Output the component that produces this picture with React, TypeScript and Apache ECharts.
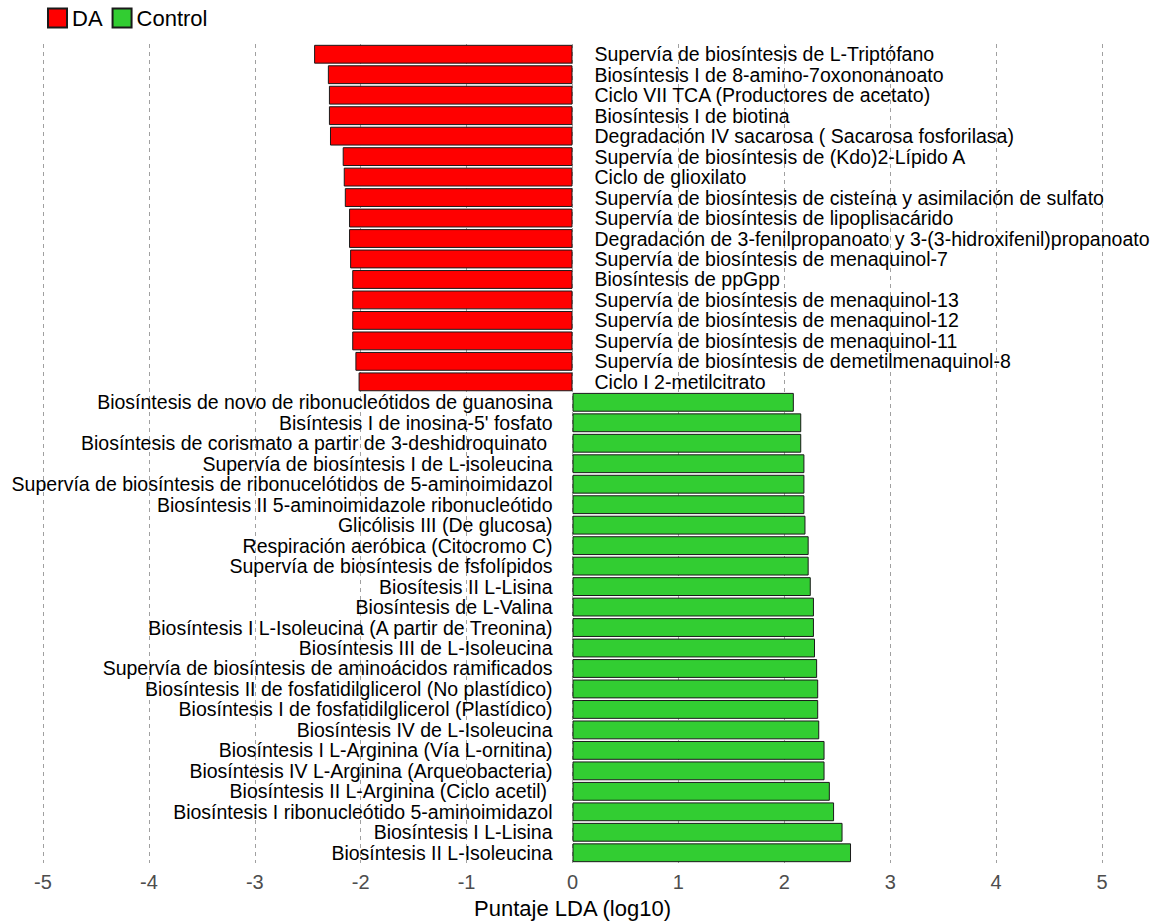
import React, { useEffect, useRef } from "react";
import * as echarts from "echarts";

const daCategories = [
  "Supervía de biosíntesis de L-Triptófano",
  "Biosíntesis I de 8-amino-7oxononanoato",
  "Ciclo VII TCA (Productores de acetato)",
  "Biosíntesis I de biotina",
  "Degradación IV sacarosa ( Sacarosa fosforilasa)",
  "Supervía de biosíntesis de (Kdo)2-Lípido A",
  "Ciclo de glioxilato",
  "Supervía de biosíntesis de cisteína y asimilación de sulfato",
  "Supervía de biosíntesis de lipoplisacárido",
  "Degradación de 3-fenilpropanoato y 3-(3-hidroxifenil)propanoato",
  "Supervía de biosíntesis de menaquinol-7",
  "Biosíntesis de ppGpp",
  "Supervía de biosíntesis de menaquinol-13",
  "Supervía de biosíntesis de menaquinol-12",
  "Supervía de biosíntesis de menaquinol-11",
  "Supervía de biosíntesis de demetilmenaquinol-8",
  "Ciclo I 2-metilcitrato",
];
const daValues = [
  -2.44, -2.31, -2.3, -2.3, -2.29, -2.17, -2.16, -2.15, -2.11, -2.11, -2.1,
  -2.08, -2.08, -2.08, -2.08, -2.05, -2.02,
];

const controlCategories = [
  "Biosíntesis de novo de ribonucleótidos de guanosina",
  "Bisíntesis I de inosina-5' fosfato",
  "Biosíntesis de corismato a partir de 3-deshidroquinato ",
  "Supervía de biosíntesis I de L-isoleucina",
  "Supervía de biosíntesis de ribonucelótidos de 5-aminoimidazol",
  "Biosíntesis II 5-aminoimidazole ribonucleótido",
  "Glicólisis III (De glucosa)",
  "Respiración aeróbica (Citocromo C)",
  "Supervía de biosíntesis de fsfolípidos",
  "Biosítesis II L-Lisina",
  "Biosíntesis de L-Valina",
  "Biosíntesis I L-Isoleucina (A partir de Treonina)",
  "Biosíntesis III de L-Isoleucina",
  "Supervía de biosíntesis de aminoácidos ramificados",
  "Biosíntesis II de fosfatidilglicerol (No plastídico)",
  "Biosíntesis I de fosfatidilglicerol (Plastídico)",
  "Biosíntesis IV de L-Isoleucina",
  "Biosíntesis I L-Arginina (Vía L-ornitina)",
  "Biosíntesis IV L-Arginina (Arqueobacteria)",
  "Biosíntesis II L-Arginina (Ciclo acetil) ",
  "Biosíntesis I ribonucleótido 5-aminoimidazol",
  "Biosíntesis I L-Lisina",
  "Biosíntesis II L-Isoleucina",
];
const controlValues = [
  2.09, 2.16, 2.16, 2.19, 2.19, 2.19, 2.2, 2.23, 2.23, 2.25, 2.28, 2.28, 2.29,
  2.31, 2.32, 2.32, 2.33, 2.38, 2.38, 2.43, 2.47, 2.55, 2.63,
];

const xTicks = [-5, -4, -3, -2, -1, 0, 1, 2, 3, 4, 5];

const FONT = "'Liberation Sans', Arial, sans-serif";

export default function App() {
  const ref = useRef<HTMLDivElement>(null);

  useEffect(() => {
    if (!ref.current) return;
    const chart = echarts.init(ref.current, null, { renderer: "svg" });
    const categories = [...daCategories, ...controlCategories];
    const daData = categories.map((_, i) =>
      i < daValues.length ? daValues[i] : "-"
    );
    const controlData = categories.map((_, i) =>
      i >= daValues.length ? controlValues[i - daValues.length] : "-"
    );

    chart.setOption({
      animation: false,
      backgroundColor: "#ffffff",
      legend: {
        left: 47,
        top: 7,
        padding: 0,
        itemWidth: 19,
        itemHeight: 19,
        itemGap: 9,
        icon: "rect",
        textStyle: { fontSize: 22, color: "#000", fontFamily: FONT },
        data: ["DA", "Control"],
      },
      grid: { left: 43, right: 56, top: 44, bottom: 57, containLabel: false },
      xAxis: {
        type: "value",
        min: xTicks[0],
        max: xTicks[xTicks.length - 1],
        interval: 1,
        name: "Puntaje LDA (log10)",
        nameLocation: "middle",
        nameGap: 34,
        nameTextStyle: { fontSize: 22, color: "#000", fontFamily: FONT },
        axisLine: { show: false },
        axisTick: { show: false },
        axisLabel: {
          fontSize: 20,
          color: "#4d4d4d",
          fontFamily: FONT,
          margin: 9,
        },
        splitLine: {
          show: true,
          lineStyle: { color: "#a0a0a0", width: 1, type: [4, 4] },
        },
      },
      yAxis: {
        type: "category",
        inverse: true,
        data: categories,
        axisLine: { show: false },
        axisTick: { show: false },
        axisLabel: { show: false },
        splitLine: { show: false },
      },
      series: [
        {
          name: "DA",
          type: "bar",
          data: daData,
          barCategoryGap: "8%",
          barGap: "-100%",
          itemStyle: { color: "#ff0000", borderColor: "#1a1a1a", borderWidth: 1 },
          label: {
            show: true,
            position: "right",
            distance: 22,
            formatter: "{b}",
            color: "#000",
            fontSize: 19.5,
            fontFamily: FONT,
          },
        },
        {
          name: "Control",
          type: "bar",
          data: controlData,
          barCategoryGap: "8%",
          barGap: "-100%",
          itemStyle: { color: "#32cd32", borderColor: "#1a1a1a", borderWidth: 1 },
          label: {
            show: true,
            position: "left",
            distance: 20,
            formatter: "{b}",
            color: "#000",
            fontSize: 19.5,
            fontFamily: FONT,
          },
        },
      ],
    });
    return () => chart.dispose();
  }, []);

  return (
    <div
      ref={ref}
      style={{ position: "fixed", left: 0, top: 0, width: 1158, height: 924 }}
    />
  );
}
